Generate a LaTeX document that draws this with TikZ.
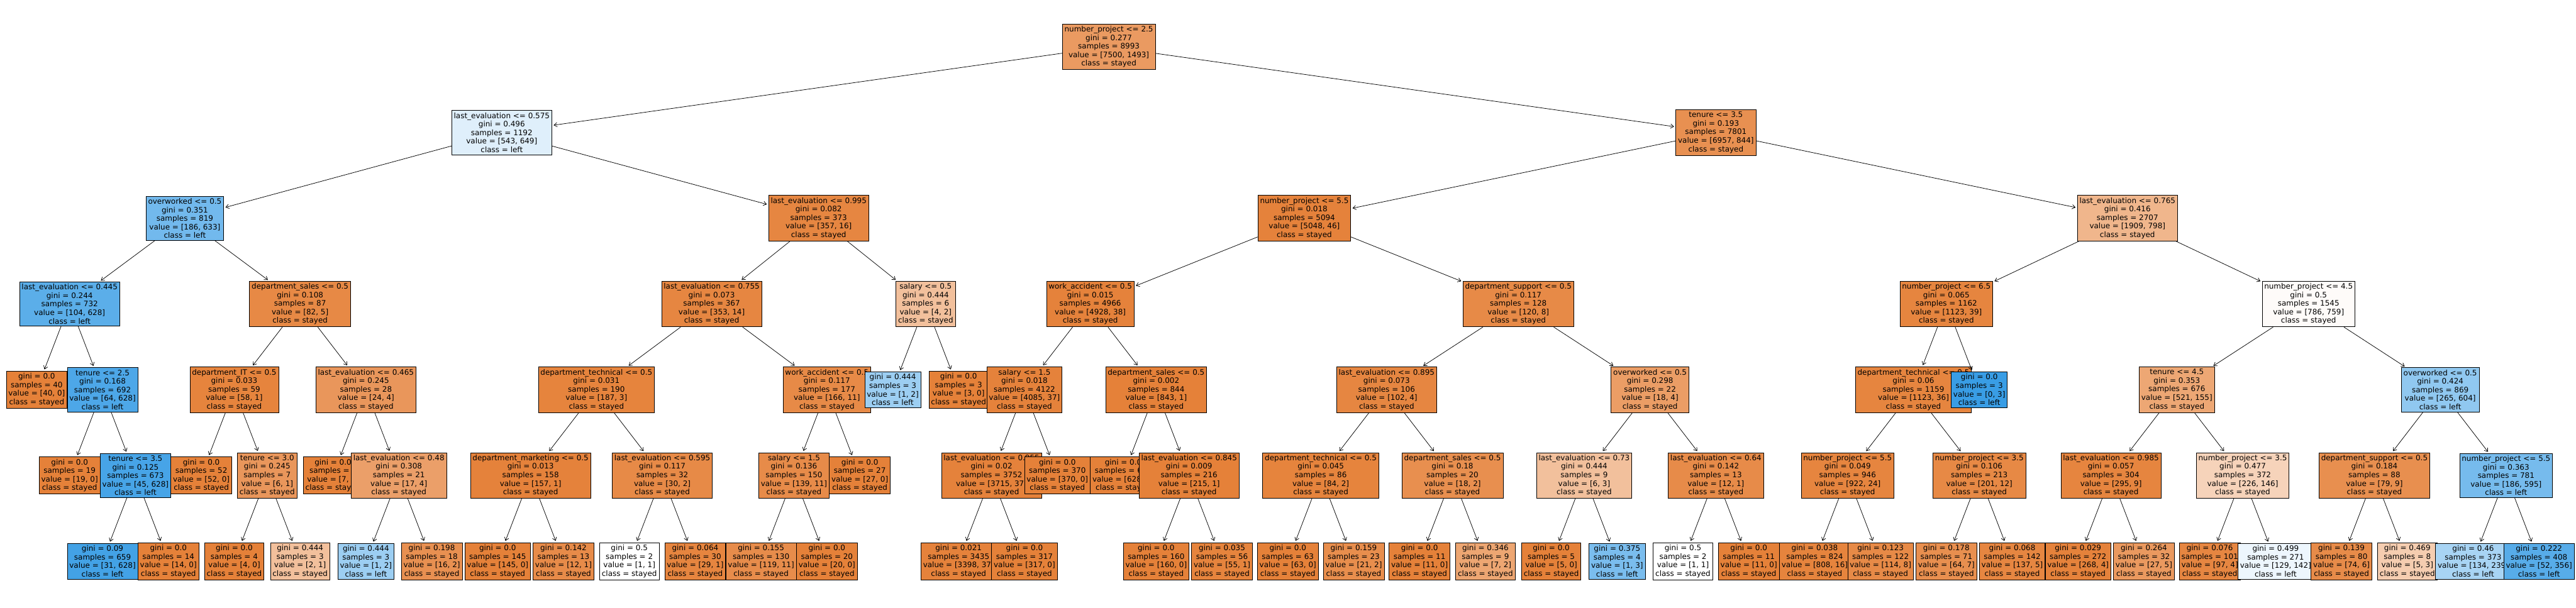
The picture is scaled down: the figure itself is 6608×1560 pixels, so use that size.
\documentclass[tikz,border=0pt]{standalone}
\usepackage{fontspec}
\setmainfont{DejaVu Sans}
\usetikzlibrary{arrows.meta}
\definecolor{stc}{RGB}{229,129,57}
\definecolor{lfc}{RGB}{57,157,229}
\newcommand{\dn}[5]{#1\\gini = #2\\samples = #3\\value = [#4]\\class = #5}
\newcommand{\lv}[4]{gini = #1\\samples = #2\\value = [#3]\\class = #4}
\tikzset{
  tbox/.style={draw=black, line width=1.2pt, rectangle, align=center, inner sep=5.5pt,
    font=\fontsize{19.3pt}{21.9pt}\selectfont},
  so/.style={tbox, fill=stc!#1!white},
  sb/.style={tbox, fill=lfc!#1!white},
  arr/.style={line width=1.2pt, -{Straight Barb[length=8pt,width=11pt]}, shorten >=4pt},
}
\begin{document}
\begin{tikzpicture}[x=168.92pt, y=-220pt]
\useasboundingbox (0pt,0pt) rectangle (6608pt,-1560pt);
\begin{scope}[shift={(94.1pt,-120pt)}]
\node[so=80] (n0) at (16.28125,0) {\dn{number\_project <= 2.5}{0.277}{8993}{7500, 1493}{stayed}};
\node[sb=16] (n1) at (7.0625,1) {\dn{last\_evaluation <= 0.575}{0.496}{1192}{543, 649}{left}};
\draw[arr] (n0) -- (n1);
\node[sb=71] (n3) at (2.25,2) {\dn{overworked <= 0.5}{0.351}{819}{186, 633}{left}};
\draw[arr] (n1) -- (n3);
\node[sb=83] (n7) at (0.5,3) {\dn{last\_evaluation <= 0.445}{0.244}{732}{104, 628}{left}};
\draw[arr] (n3) -- (n7);
\node[so=100] (l40) at (0,4) {\lv{0.0}{40}{40, 0}{stayed}};
\draw[arr] (n7) -- (l40);
\node[sb=90] (n15) at (1,4) {\dn{tenure <= 2.5}{0.168}{692}{64, 628}{left}};
\draw[arr] (n7) -- (n15);
\node[so=100] (l19) at (0.5,5) {\lv{0.0}{19}{19, 0}{stayed}};
\draw[arr] (n15) -- (l19);
\node[sb=93] (n27) at (1.5,5) {\dn{tenure <= 3.5}{0.125}{673}{45, 628}{left}};
\draw[arr] (n15) -- (n27);
\node[sb=95] (l659) at (1,6) {\lv{0.09}{659}{31, 628}{left}};
\draw[arr] (n27) -- (l659);
\node[so=100] (l14) at (2,6) {\lv{0.0}{14}{14, 0}{stayed}};
\draw[arr] (n27) -- (l14);
\node[so=94] (n8) at (4,3) {\dn{department\_sales <= 0.5}{0.108}{87}{82, 5}{stayed}};
\draw[arr] (n3) -- (n8);
\node[so=98] (n16) at (3,4) {\dn{department\_IT <= 0.5}{0.033}{59}{58, 1}{stayed}};
\draw[arr] (n8) -- (n16);
\node[so=100] (l52) at (2.5,5) {\lv{0.0}{52}{52, 0}{stayed}};
\draw[arr] (n16) -- (l52);
\node[so=83] (n28) at (3.5,5) {\dn{tenure <= 3.0}{0.245}{7}{6, 1}{stayed}};
\draw[arr] (n16) -- (n28);
\node[so=100] (l4) at (3,6) {\lv{0.0}{4}{4, 0}{stayed}};
\draw[arr] (n28) -- (l4);
\node[so=50] (l21) at (4,6) {\lv{0.444}{3}{2, 1}{stayed}};
\draw[arr] (n28) -- (l21);
\node[so=83] (n17) at (5,4) {\dn{last\_evaluation <= 0.465}{0.245}{28}{24, 4}{stayed}};
\draw[arr] (n8) -- (n17);
\node[so=100] (l7) at (4.5,5) {\lv{0.0}{7}{7, 0}{stayed}};
\draw[arr] (n17) -- (l7);
\node[so=76] (n29) at (5.5,5) {\dn{last\_evaluation <= 0.48}{0.308}{21}{17, 4}{stayed}};
\draw[arr] (n17) -- (n29);
\node[sb=50] (l12a) at (5,6) {\lv{0.444}{3}{1, 2}{left}};
\draw[arr] (n29) -- (l12a);
\node[so=88] (l18) at (6,6) {\lv{0.198}{18}{16, 2}{stayed}};
\draw[arr] (n29) -- (l18);
\node[so=96] (n4) at (11.875,2) {\dn{last\_evaluation <= 0.995}{0.082}{373}{357, 16}{stayed}};
\draw[arr] (n1) -- (n4);
\node[so=96] (n9) at (10.25,3) {\dn{last\_evaluation <= 0.755}{0.073}{367}{353, 14}{stayed}};
\draw[arr] (n4) -- (n9);
\node[so=98] (n18) at (8.5,4) {\dn{department\_technical <= 0.5}{0.031}{190}{187, 3}{stayed}};
\draw[arr] (n9) -- (n18);
\node[so=99] (n30) at (7.5,5) {\dn{department\_marketing <= 0.5}{0.013}{158}{157, 1}{stayed}};
\draw[arr] (n18) -- (n30);
\node[so=100] (l145) at (7,6) {\lv{0.0}{145}{145, 0}{stayed}};
\draw[arr] (n30) -- (l145);
\node[so=92] (l13) at (8,6) {\lv{0.142}{13}{12, 1}{stayed}};
\draw[arr] (n30) -- (l13);
\node[so=93] (n31) at (9.5,5) {\dn{last\_evaluation <= 0.595}{0.117}{32}{30, 2}{stayed}};
\draw[arr] (n18) -- (n31);
\node[so=0] (l2a) at (9,6) {\lv{0.5}{2}{1, 1}{stayed}};
\draw[arr] (n31) -- (l2a);
\node[so=97] (l30) at (10,6) {\lv{0.064}{30}{29, 1}{stayed}};
\draw[arr] (n31) -- (l30);
\node[so=93] (n19) at (12,4) {\dn{work\_accident <= 0.5}{0.117}{177}{166, 11}{stayed}};
\draw[arr] (n9) -- (n19);
\node[so=92] (n32) at (11.5,5) {\dn{salary <= 1.5}{0.136}{150}{139, 11}{stayed}};
\draw[arr] (n19) -- (n32);
\node[so=91] (l130) at (11,6) {\lv{0.155}{130}{119, 11}{stayed}};
\draw[arr] (n32) -- (l130);
\node[so=100] (l20) at (12,6) {\lv{0.0}{20}{20, 0}{stayed}};
\draw[arr] (n32) -- (l20);
\node[so=100] (l27) at (12.5,5) {\lv{0.0}{27}{27, 0}{stayed}};
\draw[arr] (n19) -- (l27);
\node[so=50] (n10) at (13.5,3) {\dn{salary <= 0.5}{0.444}{6}{4, 2}{stayed}};
\draw[arr] (n4) -- (n10);
\node[sb=50] (l3a) at (13,4) {\lv{0.444}{3}{1, 2}{left}};
\draw[arr] (n10) -- (l3a);
\node[so=100] (l3b) at (14,4) {\lv{0.0}{3}{3, 0}{stayed}};
\draw[arr] (n10) -- (l3b);
\node[so=88] (n2) at (25.5,1) {\dn{tenure <= 3.5}{0.193}{7801}{6957, 844}{stayed}};
\draw[arr] (n0) -- (n2);
\node[so=99] (n5) at (19.25,2) {\dn{number\_project <= 5.5}{0.018}{5094}{5048, 46}{stayed}};
\draw[arr] (n2) -- (n5);
\node[so=99] (n11) at (16,3) {\dn{work\_accident <= 0.5}{0.015}{4966}{4928, 38}{stayed}};
\draw[arr] (n5) -- (n11);
\node[so=99] (n20) at (15,4) {\dn{salary <= 1.5}{0.018}{4122}{4085, 37}{stayed}};
\draw[arr] (n11) -- (n20);
\node[so=99] (n33) at (14.5,5) {\dn{last\_evaluation <= 0.955}{0.02}{3752}{3715, 37}{stayed}};
\draw[arr] (n20) -- (n33);
\node[so=99] (l3435) at (14,6) {\lv{0.021}{3435}{3398, 37}{stayed}};
\draw[arr] (n33) -- (l3435);
\node[so=100] (l317) at (15,6) {\lv{0.0}{317}{317, 0}{stayed}};
\draw[arr] (n33) -- (l317);
\node[so=100] (l370) at (15.5,5) {\lv{0.0}{370}{370, 0}{stayed}};
\draw[arr] (n20) -- (l370);
\node[so=100] (n21) at (17,4) {\dn{department\_sales <= 0.5}{0.002}{844}{843, 1}{stayed}};
\draw[arr] (n11) -- (n21);
\node[so=100] (l628) at (16.5,5) {\lv{0.0}{628}{628, 0}{stayed}};
\draw[arr] (n21) -- (l628);
\node[so=100] (n34) at (17.5,5) {\dn{last\_evaluation <= 0.845}{0.009}{216}{215, 1}{stayed}};
\draw[arr] (n21) -- (n34);
\node[so=100] (l160) at (17,6) {\lv{0.0}{160}{160, 0}{stayed}};
\draw[arr] (n34) -- (l160);
\node[so=98] (l56) at (18,6) {\lv{0.035}{56}{55, 1}{stayed}};
\draw[arr] (n34) -- (l56);
\node[so=93] (n12) at (22.5,3) {\dn{department\_support <= 0.5}{0.117}{128}{120, 8}{stayed}};
\draw[arr] (n5) -- (n12);
\node[so=96] (n22) at (20.5,4) {\dn{last\_evaluation <= 0.895}{0.073}{106}{102, 4}{stayed}};
\draw[arr] (n12) -- (n22);
\node[so=98] (n35) at (19.5,5) {\dn{department\_technical <= 0.5}{0.045}{86}{84, 2}{stayed}};
\draw[arr] (n22) -- (n35);
\node[so=100] (l63) at (19,6) {\lv{0.0}{63}{63, 0}{stayed}};
\draw[arr] (n35) -- (l63);
\node[so=90] (l23) at (20,6) {\lv{0.159}{23}{21, 2}{stayed}};
\draw[arr] (n35) -- (l23);
\node[so=89] (n36) at (21.5,5) {\dn{department\_sales <= 0.5}{0.18}{20}{18, 2}{stayed}};
\draw[arr] (n22) -- (n36);
\node[so=100] (l11a) at (21,6) {\lv{0.0}{11}{11, 0}{stayed}};
\draw[arr] (n36) -- (l11a);
\node[so=71] (l9) at (22,6) {\lv{0.346}{9}{7, 2}{stayed}};
\draw[arr] (n36) -- (l9);
\node[so=78] (n23) at (24.5,4) {\dn{overworked <= 0.5}{0.298}{22}{18, 4}{stayed}};
\draw[arr] (n12) -- (n23);
\node[so=50] (n37) at (23.5,5) {\dn{last\_evaluation <= 0.73}{0.444}{9}{6, 3}{stayed}};
\draw[arr] (n23) -- (n37);
\node[so=100] (l5) at (23,6) {\lv{0.0}{5}{5, 0}{stayed}};
\draw[arr] (n37) -- (l5);
\node[sb=67] (l4b) at (24,6) {\lv{0.375}{4}{1, 3}{left}};
\draw[arr] (n37) -- (l4b);
\node[so=92] (n38) at (25.5,5) {\dn{last\_evaluation <= 0.64}{0.142}{13}{12, 1}{stayed}};
\draw[arr] (n23) -- (n38);
\node[so=0] (l2b) at (25,6) {\lv{0.5}{2}{1, 1}{stayed}};
\draw[arr] (n38) -- (l2b);
\node[so=100] (l11b) at (26,6) {\lv{0.0}{11}{11, 0}{stayed}};
\draw[arr] (n38) -- (l11b);
\node[so=58] (n6) at (31.75,2) {\dn{last\_evaluation <= 0.765}{0.416}{2707}{1909, 798}{stayed}};
\draw[arr] (n2) -- (n6);
\node[so=97] (n13) at (29,3) {\dn{number\_project <= 6.5}{0.065}{1162}{1123, 39}{stayed}};
\draw[arr] (n6) -- (n13);
\node[so=97] (n24) at (28.5,4) {\dn{department\_technical <= 0.5}{0.06}{1159}{1123, 36}{stayed}};
\draw[arr] (n13) -- (n24);
\node[so=97] (n39) at (27.5,5) {\dn{number\_project <= 5.5}{0.049}{946}{922, 24}{stayed}};
\draw[arr] (n24) -- (n39);
\node[so=98] (l824) at (27,6) {\lv{0.038}{824}{808, 16}{stayed}};
\draw[arr] (n39) -- (l824);
\node[so=93] (l122) at (28,6) {\lv{0.123}{122}{114, 8}{stayed}};
\draw[arr] (n39) -- (l122);
\node[so=94] (n40) at (29.5,5) {\dn{number\_project <= 3.5}{0.106}{213}{201, 12}{stayed}};
\draw[arr] (n24) -- (n40);
\node[so=89] (l71) at (29,6) {\lv{0.178}{71}{64, 7}{stayed}};
\draw[arr] (n40) -- (l71);
\node[so=96] (l142) at (30,6) {\lv{0.068}{142}{137, 5}{stayed}};
\draw[arr] (n40) -- (l142);
\node[sb=100] (l3c) at (29.5,4) {\lv{0.0}{3}{0, 3}{left}};
\draw[arr] (n13) -- (l3c);
\node[so=3] (n14) at (34.5,3) {\dn{number\_project <= 4.5}{0.5}{1545}{786, 759}{stayed}};
\draw[arr] (n6) -- (n14);
\node[so=70] (n25) at (32.5,4) {\dn{tenure <= 4.5}{0.353}{676}{521, 155}{stayed}};
\draw[arr] (n14) -- (n25);
\node[so=97] (n41) at (31.5,5) {\dn{last\_evaluation <= 0.985}{0.057}{304}{295, 9}{stayed}};
\draw[arr] (n25) -- (n41);
\node[so=99] (l272) at (31,6) {\lv{0.029}{272}{268, 4}{stayed}};
\draw[arr] (n41) -- (l272);
\node[so=81] (l32) at (32,6) {\lv{0.264}{32}{27, 5}{stayed}};
\draw[arr] (n41) -- (l32);
\node[so=35] (n42) at (33.5,5) {\dn{number\_project <= 3.5}{0.477}{372}{226, 146}{stayed}};
\draw[arr] (n25) -- (n42);
\node[so=96] (l101) at (33,6) {\lv{0.076}{101}{97, 4}{stayed}};
\draw[arr] (n42) -- (l101);
\node[sb=9] (l271) at (34,6) {\lv{0.499}{271}{129, 142}{left}};
\draw[arr] (n42) -- (l271);
\node[sb=56] (n26) at (36.5,4) {\dn{overworked <= 0.5}{0.424}{869}{265, 604}{left}};
\draw[arr] (n14) -- (n26);
\node[so=89] (n43) at (35.5,5) {\dn{department\_support <= 0.5}{0.184}{88}{79, 9}{stayed}};
\draw[arr] (n26) -- (n43);
\node[so=92] (l80) at (35,6) {\lv{0.139}{80}{74, 6}{stayed}};
\draw[arr] (n43) -- (l80);
\node[so=40] (l8) at (36,6) {\lv{0.469}{8}{5, 3}{stayed}};
\draw[arr] (n43) -- (l8);
\node[sb=69] (n44) at (37.5,5) {\dn{number\_project <= 5.5}{0.363}{781}{186, 595}{left}};
\draw[arr] (n26) -- (n44);
\node[sb=44] (l373) at (37,6) {\lv{0.46}{373}{134, 239}{left}};
\draw[arr] (n44) -- (l373);
\node[sb=85] (l408) at (38,6) {\lv{0.222}{408}{52, 356}{left}};
\draw[arr] (n44) -- (l408);
\end{scope}
\end{tikzpicture}
\end{document}
